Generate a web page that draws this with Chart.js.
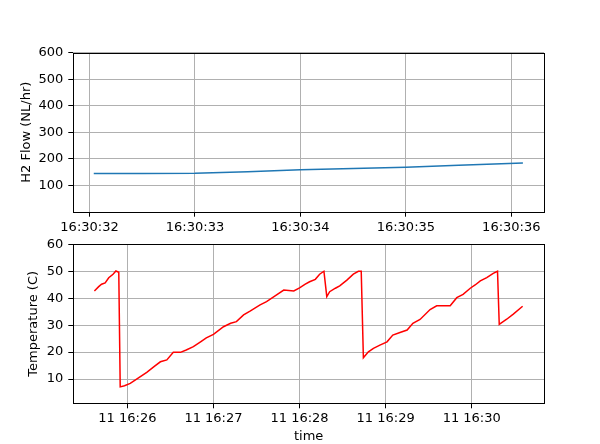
<!DOCTYPE html>
<html>
<head>
<meta charset="utf-8">
<script src="https://cdn.jsdelivr.net/npm/chart.js@4.4.1/dist/chart.umd.min.js"></script>
<style>
  body { margin: 0; background: #fff; }
  .wrap { position: relative; width: 600px; height: 444px; }
  canvas { position: absolute; left: 0; }
  #flowChart { top: 0; }
  #tempChart { top: 224px; }
</style>
</head>
<body>
<div class="wrap">
  <canvas id="flowChart" width="600" height="240"></canvas>
  <canvas id="tempChart" width="600" height="220"></canvas>
</div>
<script>
// H2 flow, seconds after 16:30:00
const flowSec = [32.04, 32.5, 33.0, 33.5, 34.0, 34.5, 35.0, 35.5, 36.11];
const flowVal = [144, 144.5, 145.5, 151, 158, 163, 168, 175, 184];

// temperature, seconds after 16:25:00 (11th)
const tempSec = [37, 40, 42, 44.5, 47, 50, 52, 54, 55, 58, 62, 68, 73.5, 79, 83, 87.5,
  92, 97, 101, 106, 111, 115, 120, 127, 132, 136, 141, 145.5, 152.5, 157, 164, 169,
  176, 180, 184, 187, 191, 194, 197, 199, 201, 205, 208, 213, 217.5, 221, 223, 224.5,
  228, 231.5, 236, 241, 245, 250, 255, 259, 264, 271, 275.6, 285, 289.6, 294, 299,
  302.4, 306, 310.5, 315, 318, 319.2, 324.4, 329, 335.5];
const tempVal = [42.7, 44.3, 45.2, 45.7, 47.6, 48.9, 50.1, 49.6, 7.1, 7.5, 8.4, 10.5, 12.5, 14.8, 16.4, 17.1,
  19.9, 19.9, 20.8, 22.0, 23.8, 25.3, 26.6, 29.4, 30.7, 31.3, 33.8, 35.2, 37.5, 38.7, 41.2, 43.0,
  42.7, 43.8, 45.2, 46.1, 47.0, 48.9, 50.0, 40.6, 42.4, 43.7, 44.6, 46.7, 48.9, 50.0, 50.0, 17.9,
  20.1, 21.4, 22.6, 23.8, 26.3, 27.3, 28.2, 30.7, 32.1, 35.8, 37.2, 37.2, 40.2, 41.4, 43.7,
  44.9, 46.4, 47.6, 49.2, 50.0, 30.3, 32.2, 34.1, 37.0];

// tick positions
const flowTimeTicks = [32, 33, 34, 35, 36];
const tempTimeTicks = [60, 120, 180, 240, 300];
const flowTicks = [100, 200, 300, 400, 500, 600];
const tempTicks = [10, 20, 30, 40, 50, 60];

Chart.defaults.font.family = "'DejaVu Sans', sans-serif";
Chart.defaults.font.size = 13;
Chart.defaults.color = "#000";

const pad2 = (n) => String(n).padStart(2, "0");

// box round the plot area, like matplotlib spines
const frame = {
  id: "frame",
  afterDatasetsDraw(chart) {
    const { ctx, chartArea: a } = chart;
    ctx.save();
    ctx.strokeStyle = "#000";
    ctx.lineWidth = 1;
    ctx.strokeRect(Math.round(a.left) + 0.5, Math.round(a.top) + 0.5,
      Math.round(a.right - a.left), Math.round(a.bottom - a.top));
    ctx.restore();
  },
};

const gridOpts = {
  color: "#b0b0b0",
  lineWidth: 1,
  tickColor: "#000",
  tickLength: 5,
};

function makeChart(id, xs, ys, color, o) {
  const ctx = document.getElementById(id);
  const points = xs.map((x, i) => ({ x: x, y: ys[i] }));
  return new Chart(ctx, {
    type: "line",
    data: {
      datasets: [
        {
          data: points,
          borderColor: color,
          borderWidth: 1.5,
          pointRadius: 0,
          tension: 0,
          fill: false,
        },
      ],
    },
    options: {
      responsive: false,
      animation: false,
      layout: { padding: { left: 0, right: 56, top: o.padTop, bottom: 0 } },
      plugins: { legend: { display: false }, tooltip: { enabled: false } },
      scales: {
        x: {
          type: "linear",
          min: o.xMin,
          max: o.xMax,
          grid: gridOpts,
          border: { display: false },
          ticks: { padding: 3, maxRotation: 0, autoSkip: false, callback: o.xLabel },
          afterBuildTicks: (s) => {
            s.ticks = o.xTicks.map((v) => ({ value: v }));
          },
          afterFit: (s) => { s.height = o.xHeight; },
          title: o.xTitle
            ? { display: true, text: o.xTitle, font: { size: 13, lineHeight: 1 }, padding: { top: 0, bottom: 0.8 } }
            : { display: false },
        },
        y: {
          min: o.yMin,
          max: o.yMax,
          grid: gridOpts,
          border: { display: false },
          ticks: { padding: 5, autoSkip: false },
          afterBuildTicks: (s) => {
            s.ticks = o.yTicks.map((v) => ({ value: v }));
          },
          afterFit: (s) => { s.width = 73.3; },
          title: {
            display: true,
            text: o.yTitle,
            font: { size: 13, lineHeight: 1 },
            padding: { top: o.yTitlePad, bottom: 0 },
          },
        },
      },
    },
    plugins: [frame],
  });
}

makeChart("flowChart", flowSec, flowVal, "#1f77b4", {
  padTop: 52.7,
  xMin: 31.846,
  xMax: 36.31,
  xTicks: flowTimeTicks,
  xHeight: 28.3,
  xLabel: (v) => "16:30:" + pad2(Math.round(v)),
  yMin: 0,
  yMax: 600,
  yTicks: flowTicks,
  yTitle: "H2 Flow (NL/hr)",
  yTitlePad: 20.5,
});

// canvas starts at y=224, plot top wanted at 244.3
makeChart("tempChart", tempSec, tempVal, "#ff0000", {
  padTop: 20.3,
  xMin: 22.3,
  xMax: 350.4,
  xTicks: tempTimeTicks,
  xHeight: 40.7,
  xLabel: (v) => "11 16:" + pad2(25 + Math.round(v / 60)),
  xTitle: "time",
  yMin: 1,
  yMax: 60,
  yTicks: tempTicks,
  yTitle: "Temperature (C)",
  yTitlePad: 27,
});
</script>
</body>
</html>
